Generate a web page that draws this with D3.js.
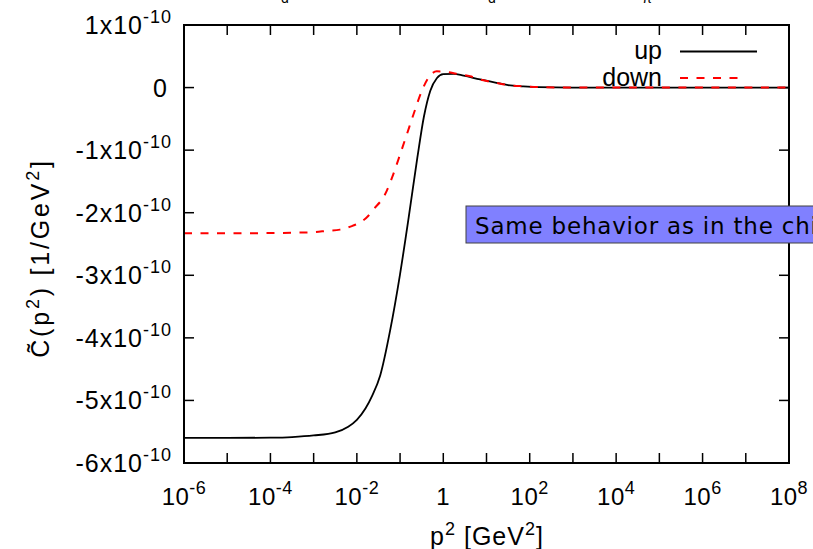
<!DOCTYPE html>
<html><head><meta charset="utf-8">
<script src="https://cdn.jsdelivr.net/npm/d3@7"></script>
<style>body{margin:0;background:#fff}svg{display:block}</style></head>
<body>
<svg id="c" width="813" height="549"></svg>
<script>
// ---- data ----
const upP2 = [1e-6,1e-5,1e-4,3.16e-4,1e-3,3.16e-3,6.31e-3,1e-2,1.58e-2,2.24e-2,3.47e-2,5.89e-2,0.1,0.158,0.251,0.355,0.501,0.708,1,1.72,2.95,7.08,17.0,31.6,70.8,158,1000,1e8];
const upC  = [-5.60e-10,-5.60e-10,-5.595e-10,-5.585e-10,-5.56e-10,-5.51e-10,-5.42e-10,-5.31e-10,-5.13e-10,-4.93e-10,-4.60e-10,-3.88e-10,-2.98e-10,-2.08e-10,-1.12e-10,-0.47e-10,-0.05e-10,0.15e-10,0.215e-10,0.22e-10,0.19e-10,0.13e-10,0.075e-10,0.04e-10,0.02e-10,0.007e-10,0,0];
const downP2 = [1e-6,1e-5,1e-4,3.16e-4,1e-3,2.0e-3,4.07e-3,7.94e-3,1.17e-2,1.78e-2,2.40e-2,4.47e-2,6.92e-2,0.1,0.143,0.204,0.316,0.452,0.708,1.20,2.0,4.17,7.08,17.0,31.6,70.8,158,1000,1e8];
const downC  = [-2.33e-10,-2.33e-10,-2.325e-10,-2.32e-10,-2.31e-10,-2.29e-10,-2.27e-10,-2.21e-10,-2.16e-10,-2.06e-10,-1.95e-10,-1.71e-10,-1.39e-10,-1.07e-10,-0.75e-10,-0.43e-10,-0.06e-10,0.155e-10,0.26e-10,0.25e-10,0.22e-10,0.18e-10,0.13e-10,0.075e-10,0.04e-10,0.02e-10,0.007e-10,0,0];
const seriesNames = ["up","down"];
const xTickValues = [1e-6,1e-5,1e-4,1e-3,1e-2,1e-1,1,1e1,1e2,1e3,1e4,1e5,1e6,1e7,1e8];
const xLabelExps = [-6,-4,-2,0,2,4,6,8];
const yTickValues = [1e-10,0,-1e-10,-2e-10,-3e-10,-4e-10,-5e-10,-6e-10];
const yLabelMults = [1,0,-1,-2,-3,-4,-5,-6];
const annotation = "Same behavior as in the chiral limit";
const titleFragments = ["d","d","\u03c0"];

// ---- layout ----
const L=184,R=789,T=25,B=463;
const svg=d3.select("#c");
const x=d3.scaleLog().domain([1e-6,1e8]).range([L,R]);
const y=d3.scaleLinear().domain([-6e-10,1e-10]).range([B,T]);
const FONT="'Liberation Sans', Arial, Helvetica, sans-serif";

// title fragments (cut off at top, as in the reference)
const tfx=[285,492,647];
svg.append("g").selectAll("text").data(titleFragments).join("text")
  .attr("x",(d,i)=>tfx[i]).attr("y",3).attr("font-family",FONT).attr("font-size",14)
  .attr("text-anchor","middle").text(d=>d);

svg.append("defs").append("clipPath").attr("id","clip").append("rect")
  .attr("x",L).attr("y",T).attr("width",R-L).attr("height",B-T);

// ticks (inward, mirrored)
const tl=10;
const tg=svg.append("g").attr("stroke","#000").attr("stroke-width",1.5);
xTickValues.forEach(v=>{
  const px=x(v);
  tg.append("line").attr("x1",px).attr("x2",px).attr("y1",B).attr("y2",B-tl);
  tg.append("line").attr("x1",px).attr("x2",px).attr("y1",T).attr("y2",T+tl);
});
yTickValues.forEach(v=>{
  const py=y(v);
  tg.append("line").attr("x1",L).attr("x2",L+tl).attr("y1",py).attr("y2",py);
  tg.append("line").attr("x1",R).attr("x2",R-tl).attr("y1",py).attr("y2",py);
});

// x tick labels
xLabelExps.forEach(e=>{
  const t=svg.append("text").attr("x",x(Math.pow(10,e))).attr("y",505)
    .attr("font-family",FONT).attr("font-size",24).attr("letter-spacing",0.5).attr("text-anchor","middle");
  if(e===0){t.text("1");}
  else{ t.append("tspan").text("10"); t.append("tspan").attr("dy",-11).attr("font-size",18).text(String(e)); }
});
// y tick labels
yTickValues.forEach((v,i)=>{
  const m=yLabelMults[i];
  const t=svg.append("text").attr("x",172).attr("y",y(v)+9)
    .attr("font-family",FONT).attr("font-size",25).attr("letter-spacing",1).attr("text-anchor","end");
  if(m===0){t.attr("x",168).text("0");}
  else{ t.append("tspan").text(m+"x10"); t.append("tspan").attr("dy",-11).attr("font-size",18).text("-10"); }
});

// axis titles
const xl=svg.append("text").attr("x",487).attr("y",545).attr("font-family",FONT)
  .attr("font-size",25).attr("letter-spacing",1).attr("text-anchor","middle");
xl.append("tspan").text("p");
xl.append("tspan").attr("dy",-10).attr("font-size",18).text("2");
xl.append("tspan").attr("dy",10).text(" [GeV");
xl.append("tspan").attr("dy",-10).attr("font-size",18).text("2");
xl.append("tspan").attr("dy",10).text("]");

const yl=svg.append("text").attr("transform","translate(49,258) rotate(-90)")
  .attr("font-family",FONT).attr("font-size",25).attr("letter-spacing",2.8).attr("text-anchor","middle");
yl.append("tspan").text("C\u0303(p");
yl.append("tspan").attr("dy",-10).attr("font-size",18).text("2");
yl.append("tspan").attr("dy",10).text(") [1/GeV");
yl.append("tspan").attr("dy",-10).attr("font-size",18).text("2");
yl.append("tspan").attr("dy",10).text("]");

// curves
const line=d3.line().x(d=>x(d[0])).y(d=>y(d[1])).curve(d3.curveMonotoneX);
const upData=upP2.map((p,i)=>[p,upC[i]]);
const downData=downP2.map((p,i)=>[p,downC[i]]);
const cg=svg.append("g").attr("clip-path","url(#clip)");
cg.append("path").datum(upData).attr("d",line).attr("fill","none")
  .attr("stroke","#000").attr("stroke-width",1.8);
cg.append("path").datum(downData).attr("d",line).attr("fill","none")
  .attr("stroke","#ff0000").attr("stroke-width",2).attr("stroke-dasharray","8,8.5");

// legend
const lg=svg.append("g");
lg.append("text").attr("x",662).attr("y",59).attr("font-family",FONT).attr("font-size",25)
  .attr("text-anchor","end").text(seriesNames[0]);
lg.append("line").attr("x1",680).attr("x2",757).attr("y1",51.5).attr("y2",51.5)
  .attr("stroke","#000").attr("stroke-width",1.8);
lg.append("text").attr("x",662).attr("y",86).attr("font-family",FONT).attr("font-size",25)
  .attr("text-anchor","end").text(seriesNames[1]);
lg.append("line").attr("x1",680).attr("x2",746).attr("y1",78).attr("y2",78)
  .attr("stroke","#ff0000").attr("stroke-width",2).attr("stroke-dasharray","8,8.5");

// frame
svg.append("rect").attr("x",L).attr("y",T).attr("width",R-L).attr("height",B-T)
  .attr("fill","none").attr("stroke","#000").attr("stroke-width",2);

// annotation box
svg.append("rect").attr("x",466).attr("y",206).attr("width",420).attr("height",37)
  .attr("fill","#8080ff").attr("stroke","#404040").attr("stroke-width",1);
svg.append("text").attr("x",475).attr("y",234).attr("font-family","'DejaVu Sans', sans-serif")
  .attr("font-size",23).attr("letter-spacing",0.8).attr("fill","#000").text(annotation);
</script>
</body></html>
